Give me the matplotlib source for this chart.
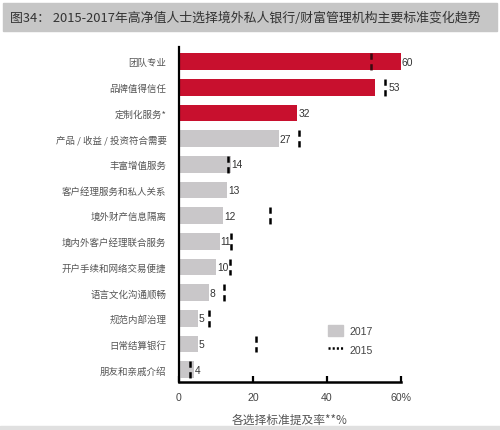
import numpy as np
import matplotlib
matplotlib.use("Agg")
import matplotlib.pyplot as plt
from matplotlib.patches import Rectangle
from matplotlib.lines import Line2D

plt.rcParams['font.family'] = ['Noto Sans CJK SC', 'DejaVu Sans']
plt.rcParams['lines.scale_dashes'] = False

title = "图34： 2015-2017年高净值人士选择境外私人银行/财富管理机构主要标准变化趋势"
categories = ["团队专业", "品牌值得信任", "定制化服务*", "产品 / 收益 / 投资符合需要",
              "丰富增值服务", "客户经理服务和私人关系", "境外财产信息隔离",
              "境内外客户经理联合服务", "开户手续和网络交易便捷", "语言文化沟通顺畅",
              "规范内部治理", "日常结算银行", "朋友和亲戚介绍"]
rate_2017 = [60, 53, 32, 27, 14, 13, 12, 11, 10, 8, 5, 5, 4]
rate_2015 = [52, 55.8, None, 32.4, 13.2, None, 24.5, 14.1, 13.9, 12.2, 8.2, 20.8, 3]
highlight = [True, True, True] + [False] * 10
xticks = [0, 20, 40, 60]
xtick_labels = ["0", "20", "40", "60%"]
xlabel = "各选择标准提及率**%"

RED = "#c8102e"
GRAY = "#c9c7c9"
NUM_FONT = ['Liberation Sans', 'DejaVu Sans']

fig = plt.figure(figsize=(5, 4.31), dpi=100)
fig.patch.set_facecolor("white")

# title band
fig.patches.append(Rectangle((0.006, 1 - 32 / 431), 0.988, 28 / 431,
                             transform=fig.transFigure, color="#c6c6c6", zorder=0))
fig.text(0.02, 1 - 18 / 431, title, fontsize=9.3, color="#333333",
         va="center", ha="left")
# bottom strip
fig.patches.append(Rectangle((0, 0), 1, 4 / 431, transform=fig.transFigure,
                             color="#e0e0e0", zorder=0))

ax = fig.add_axes([179 / 500, 1 - 383 / 431, 222 / 500, 335 / 431])
y = np.arange(len(categories))
bh = 0.66
colors = [RED if h else GRAY for h in highlight]
ax.barh(y, rate_2017, height=bh, color=colors, zorder=2)

for yi, v, m in zip(y, rate_2017, rate_2015):
    if m is not None:
        c = "#3a0a10" if m < v and highlight[yi] else "black"
        ax.plot([m, m], [yi - bh / 2, yi + bh / 2], color=c, lw=1.8,
                linestyle=(0, (4.5, 3.2)), zorder=3, dash_capstyle="butt")
    lx = v + 0.25
    # put the value after the 2015 mark when the mark sits right at the bar end
    if m is not None and 0 < m - v < 3:
        lx = m + 0.8
    ax.text(lx, yi, str(v), va="center", ha="left", fontsize=7.4,
            color="#333333", family=NUM_FONT, zorder=4)

ax.set_xlim(0, 60)
ax.set_ylim(len(categories) - 1 + 0.48, -0.57)
ax.set_yticks(y)
ax.set_yticklabels(categories, fontsize=6.8, color="#555555")
ax.tick_params(axis="y", length=0, pad=9)
ax.set_xticks(xticks)
ax.set_xticklabels(xtick_labels, fontsize=7.6, color="#444444", family=NUM_FONT)
ax.tick_params(axis="x", direction="in", length=4, width=1.6, pad=7)
for s in ["top", "right"]:
    ax.spines[s].set_visible(False)
ax.spines["left"].set_linewidth(1.6)
ax.spines["bottom"].set_linewidth(1.8)
ax.set_xlabel(xlabel, fontsize=8.5, color="#555555", labelpad=8)

handles = [Rectangle((0, 0), 1, 1, color=GRAY),
           Line2D([0], [0], color="black", lw=1.8, linestyle=(0, (1.5, 1.5)))]
ax.legend(handles, ["2017", "2015"], frameon=False,
          prop={'family': NUM_FONT, 'size': 7.6},
          loc="center left", bbox_to_anchor=(0.63, 0.125), handlelength=1.4,
          handleheight=1.2, labelspacing=0.7, handletextpad=0.6,
          labelcolor="#444444")

fig.savefig("out.png", dpi=100)
